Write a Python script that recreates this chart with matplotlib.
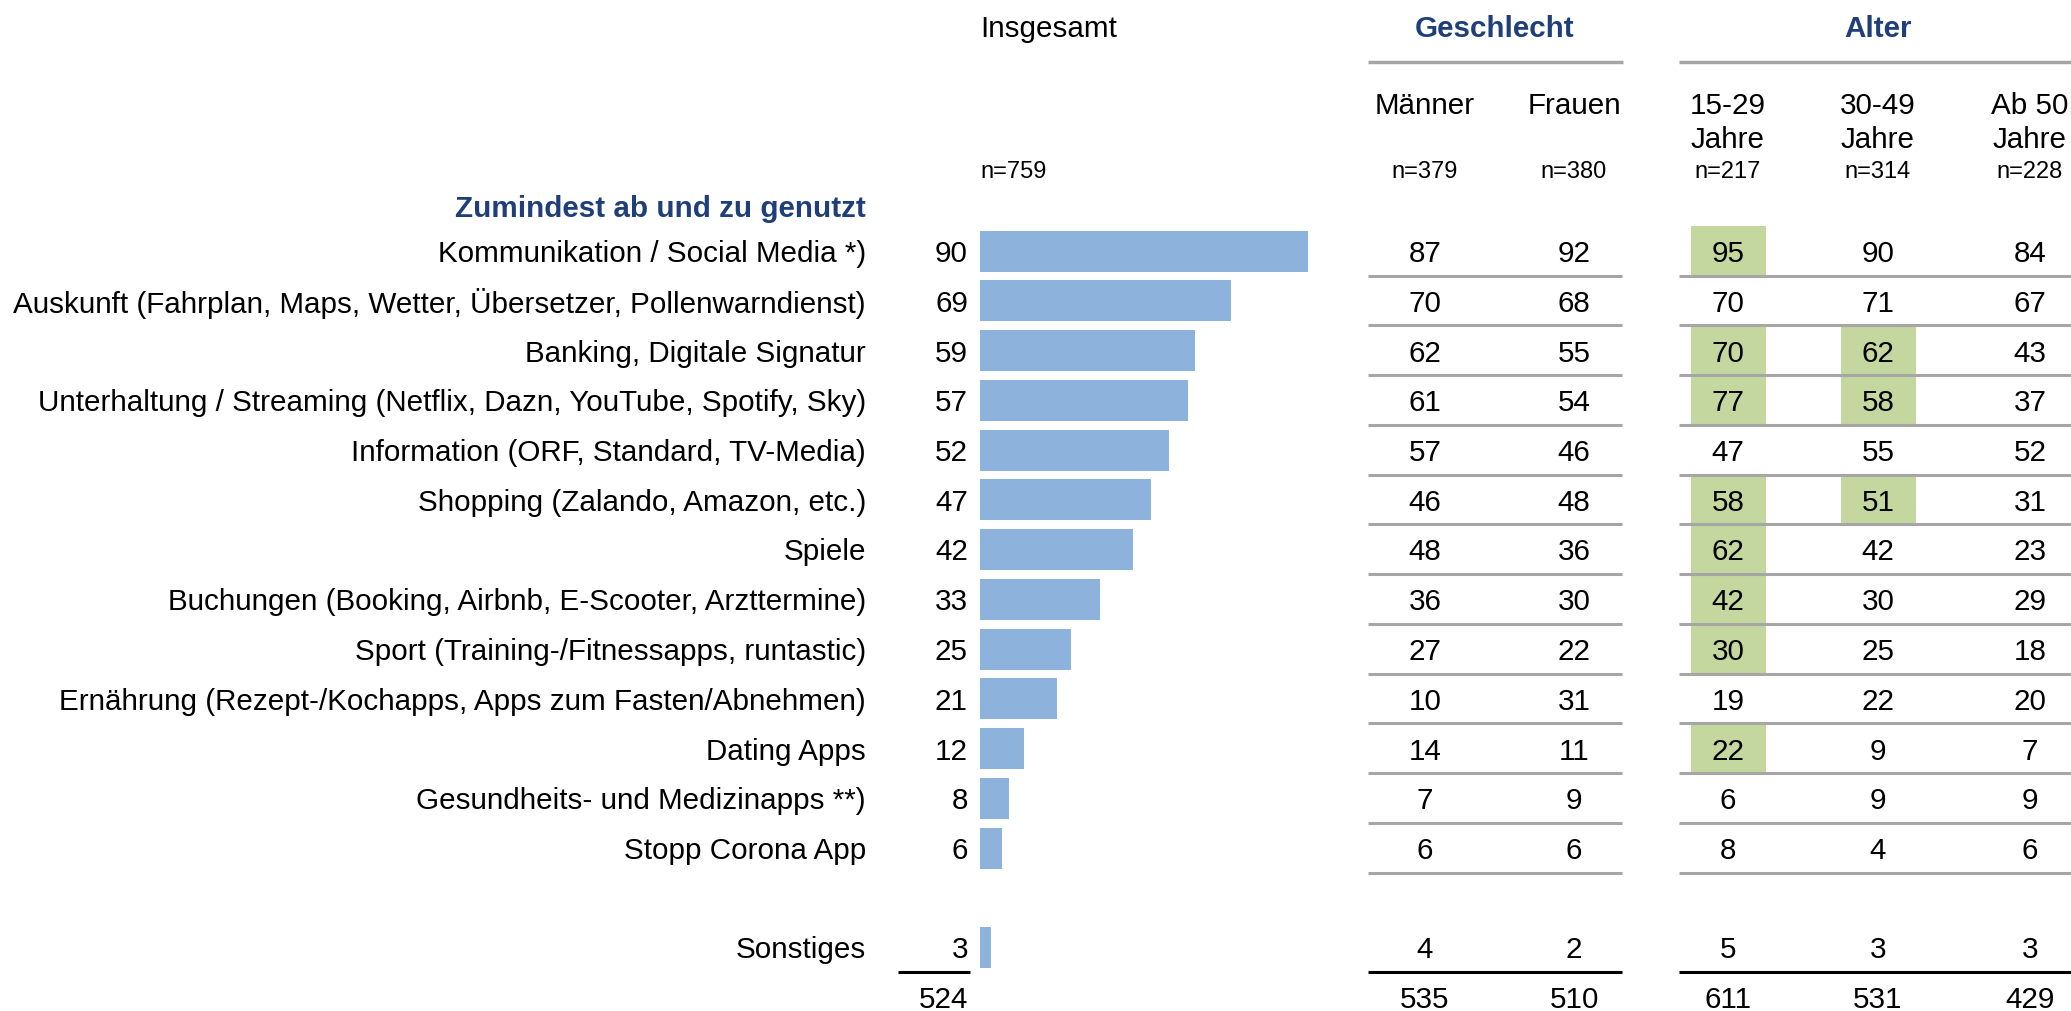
import numpy as np
import matplotlib.pyplot as plt

plt.rcParams['font.family'] = ['Liberation Sans', 'DejaVu Sans']

# daten
kategorien = ['Kommunikation / Social Media *)',
              'Auskunft (Fahrplan, Maps, Wetter, Übersetzer, Pollenwarndienst)',
              'Banking, Digitale Signatur',
              'Unterhaltung / Streaming (Netflix, Dazn, YouTube, Spotify, Sky)',
              'Information (ORF, Standard, TV-Media)',
              'Shopping (Zalando, Amazon, etc.)',
              'Spiele',
              'Buchungen (Booking, Airbnb, E-Scooter, Arzttermine)',
              'Sport (Training-/Fitnessapps, runtastic)',
              'Ernährung (Rezept-/Kochapps, Apps zum Fasten/Abnehmen)',
              'Dating Apps',
              'Gesundheits- und Medizinapps **)',
              'Stopp Corona App',
              'Sonstiges']
insgesamt = [90, 69, 59, 57, 52, 47, 42, 33, 25, 21, 12, 8, 6, 3]
maenner = [87, 70, 62, 61, 57, 46, 48, 36, 27, 10, 14, 7, 6, 4]
frauen = [92, 68, 55, 54, 46, 48, 36, 30, 22, 31, 11, 9, 6, 2]
jahre_15_29 = [95, 70, 70, 77, 47, 58, 62, 42, 30, 19, 22, 6, 8, 5]
jahre_30_49 = [90, 71, 62, 58, 55, 51, 42, 30, 25, 22, 9, 9, 4, 3]
ab_50 = [84, 67, 43, 37, 52, 31, 23, 29, 18, 20, 7, 9, 6, 3]
summen = [524, 535, 510, 611, 531, 429]
spalten = ['Männer', 'Frauen', '15-29\nJahre', '30-49\nJahre', 'Ab 50\nJahre']
n_werte = ['n=759', 'n=379', 'n=380', 'n=217', 'n=314', 'n=228']
# signifikant hoeher (gruen markiert)
hl_15_29 = [1, 0, 1, 1, 0, 1, 1, 1, 1, 0, 1, 0, 0, 0]
hl_30_49 = [0, 0, 1, 1, 0, 1, 0, 0, 0, 0, 0, 0, 0, 0]

BLAU = '#1F3F7A'
BALKEN = '#8DB3DC'
GRUEN = '#C4D79E'
GRAU = '#A6A6A6'
FS = 21.3
DY = 3  # text etwas tiefer

W, H = 2071, 1011
fig = plt.figure(figsize=(W / 100, H / 100), dpi=100)
ax = fig.add_axes([0, 0, 1, 1])
ax.set_xlim(0, W)
ax.set_ylim(H, 0)
ax.axis('off')

# zeilen-positionen (pixel von oben), leerzeile vor Sonstiges
idx = list(range(13)) + [14]
row_y = [251 + 49.75 * i for i in idx]
sum_y = 251 + 49.75 * 15

# balken
px_per_unit = 3.644
axb = fig.add_axes([980 / W, 0, 100 * px_per_unit / W, 1])
axb.set_xlim(0, 100)
axb.set_ylim(H, 0)
axb.axis('off')
axb.barh(row_y, insgesamt, height=41, color=BALKEN)

spalten_x = [1425, 1574, 1728, 1878, 2030]
gruppen = [maenner, frauen, jahre_15_29, jahre_30_49, ab_50]
hl = [None, None, hl_15_29, hl_30_49, None]

# gruene zellen
for c in range(5):
    if hl[c] is None:
        continue
    for r, flag in enumerate(hl[c]):
        if flag:
            ax.add_patch(plt.Rectangle((spalten_x[c] - 37.5, row_y[r] - 25), 75, 49.75,
                                       facecolor=GRUEN, edgecolor='none', zorder=1))

# graue linien unter den zeilen
for r in range(13):
    y = row_y[r] + 24.5
    ax.plot([1368, 1622], [y, y], color=GRAU, lw=2.2, solid_capstyle='butt', zorder=2)
    ax.plot([1679, 2071], [y, y], color=GRAU, lw=2.2, solid_capstyle='butt', zorder=2)

# schwarze summenlinien
yb = row_y[-1] + 24.5
for x0, x1 in [(898, 970), (1368, 1622), (1679, 2071)]:
    ax.plot([x0, x1], [yb, yb], color='black', lw=2.2, solid_capstyle='butt', zorder=2)

# kopf
ax.text(980, 26 + DY, 'Insgesamt', fontsize=FS, ha='left', va='center')
ax.text(1495, 26 + DY, 'Geschlecht', fontsize=FS, ha='center', va='center', color=BLAU, fontweight='bold')
ax.text(1878, 26 + DY, 'Alter', fontsize=FS, ha='center', va='center', color=BLAU, fontweight='bold')
ax.plot([1368, 1623], [62, 62], color=GRAU, lw=2.5, solid_capstyle='butt')
ax.plot([1679, 2071], [62, 62], color=GRAU, lw=2.5, solid_capstyle='butt')
for c, lab in enumerate(spalten):
    for k, zeile in enumerate(lab.split('\n')):
        ax.text(spalten_x[c], 103 + DY + 34 * k, zeile, fontsize=FS, ha='center', va='center')
ax.text(980, 169 + DY, n_werte[0], fontsize=17, ha='left', va='center')
for c in range(5):
    ax.text(spalten_x[c], 169 + DY, n_werte[c + 1], fontsize=17, ha='center', va='center')
ax.text(866, 206 + DY, 'Zumindest ab und zu genutzt', fontsize=FS, ha='right', va='center',
        color=BLAU, fontweight='bold')

# zeilen
for r, kat in enumerate(kategorien):
    y = row_y[r] + DY
    ax.text(866, y, kat, fontsize=FS, ha='right', va='center')
    ax.text(968, y, str(insgesamt[r]), fontsize=FS, ha='right', va='center')
    for c in range(5):
        ax.text(spalten_x[c], y, str(gruppen[c][r]), fontsize=FS, ha='center', va='center', zorder=3)

# summen
ax.text(968, sum_y + DY, str(summen[0]), fontsize=FS, ha='right', va='center')
for c in range(5):
    ax.text(spalten_x[c], sum_y + DY, str(summen[c + 1]), fontsize=FS, ha='center', va='center')

fig.savefig('out.png', dpi=100)
